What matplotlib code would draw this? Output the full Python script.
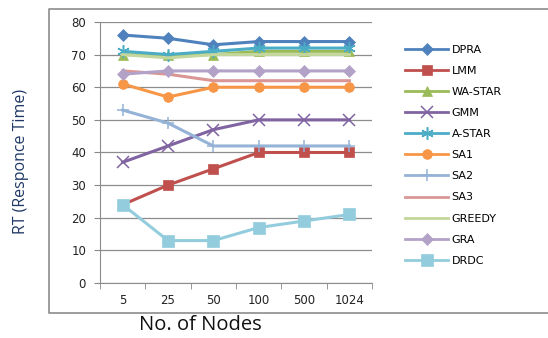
import matplotlib
matplotlib.use("Agg")
from matplotlib import pyplot as plt
from matplotlib.lines import Line2D

nodes = ["5", "25", "50", "100", "500", "1024"]

dpra = [76, 75, 73, 74, 74, 74]
lmm = [24, 30, 35, 40, 40, 40]
wa_star = [70, 70, 70, 71, 71, 71]
gmm = [37, 42, 47, 50, 50, 50]
a_star = [71, 70, 71, 72, 72, 72]
sa1 = [61, 57, 60, 60, 60, 60]
sa2 = [53, 49, 42, 42, 42, 42]
sa3 = [65, 64, 62, 62, 62, 62]
greedy = [70, 69, 70, 70, 70, 70]
gra = [64, 65, 65, 65, 65, 65]
drdc = [24, 13, 13, 17, 19, 21]

# name, values, color, marker, marker size
series = [
    ("DPRA", dpra, "#4F81BD", "D", 6),
    ("LMM", lmm, "#C0504D", "s", 7),
    ("WA-STAR", wa_star, "#9BBB59", "^", 7),
    ("GMM", gmm, "#8064A2", "x", 8),
    ("A-STAR", a_star, "#4BACC6", (6, 2, 0), 9),
    ("SA1", sa1, "#F79646", "o", 7),
    ("SA2", sa2, "#95B3D7", "+", 9),
    ("SA3", sa3, "#D99694", None, 0),
    ("GREEDY", greedy, "#C3D69B", None, 0),
    ("GRA", gra, "#B3A2C7", "D", 6),
    ("DRDC", drdc, "#93CDDD", "s", 8),
]

fig = plt.figure(figsize=(5.48, 3.38), dpi=100)
ax = fig.add_axes([0.1825, 0.1627, 0.4965, 0.7723])

x = list(range(len(nodes)))
for name, vals, col, mk, ms in series:
    thin = mk in ("x", "+") or isinstance(mk, tuple)
    ax.plot(x, vals, color=col, lw=2.2, marker=mk, markersize=ms,
            markeredgewidth=1.1 if thin else 0.5,
            markeredgecolor=col, label=name)

ax.set_xlim(-0.5, len(nodes) - 0.5)
ax.set_ylim(0, 80)
ax.set_yticks(range(0, 81, 10))
ax.set_xticks(x)
ax.set_xticklabels(nodes)
ax.set_xticks([i - 0.5 for i in range(len(nodes) + 1)], minor=True)
ax.tick_params(axis="x", which="major", length=0, pad=8, labelsize=8.5, labelcolor="#222222")
ax.tick_params(axis="x", which="minor", length=4, color="#888888", direction="out")
ax.tick_params(axis="y", length=4, color="#888888", labelsize=8.5, labelcolor="#222222", pad=6)
ax.grid(axis="y", color="#8c8c8c", lw=0.9)
ax.set_axisbelow(True)
for s in ["top", "right"]:
    ax.spines[s].set_visible(False)
for s in ["left", "bottom"]:
    ax.spines[s].set_color("#8c8c8c")

ax.set_ylabel("RT (Responce Time)", fontsize=11.5, color="#1F3864", family="Open Sans",
              va="center")
ax.yaxis.set_label_coords(-0.29, 0.467)
ax.set_xlabel("No. of Nodes", fontsize=14.5, color="#111111", family="Open Sans",
              va="center")
ax.xaxis.set_label_coords(0.37, -0.161)

leg = fig.legend(loc="upper left", bbox_to_anchor=(0.739, 0.868), frameon=False,
                 fontsize=8, labelspacing=1.0, handlelength=3.9, handletextpad=0.3,
                 borderpad=0, borderaxespad=0)
for h in leg.legend_handles:
    h.set_linewidth(2.0)

# chart area border: open on the right, like the cropped original
fx = [1.0, 49 / 548, 49 / 548, 1.0]
fy = [1 - 9 / 338, 1 - 9 / 338, 1 - 313 / 338, 1 - 313 / 338]
fig.lines.append(Line2D(fx, fy, transform=fig.transFigure, color="#8c8c8c", lw=1.2))

plt.savefig("out.png", dpi=100)
